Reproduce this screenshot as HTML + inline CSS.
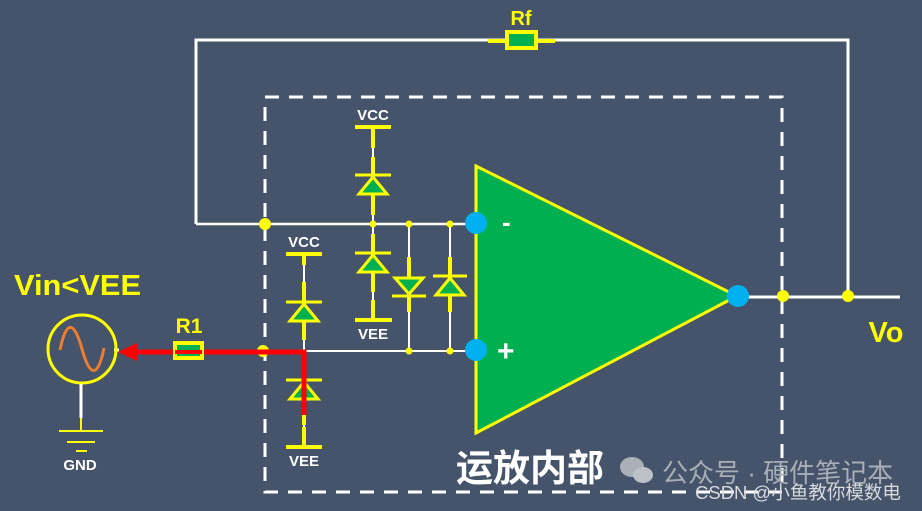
<!DOCTYPE html>
<html><head><meta charset="utf-8"><style>
html,body{margin:0;padding:0;background:#45546b;}
svg{display:block;}
text{font-family:"Liberation Sans","Noto Sans CJK SC",sans-serif;font-weight:bold;}
</style></head><body>
<svg width="922" height="511" viewBox="0 0 922 511">
<rect width="922" height="511" fill="#45546b"/>
<rect x="265" y="97" width="517" height="395" fill="none" stroke="#fff" stroke-width="3" stroke-dasharray="14,10"/>
<polyline points="196,224 196,40 848,40 848,297" fill="none" stroke="#fff" stroke-width="3"/>
<line x1="488" y1="41" x2="555" y2="41" stroke="#ff0" stroke-width="4"/>
<rect x="507" y="32" width="29" height="16" fill="#00b050" stroke="#ff0" stroke-width="4"/>
<text x="521" y="25" fill="#ff0" font-size="20" text-anchor="middle">Rf</text>
<line x1="196" y1="224" x2="476" y2="224" stroke="#fff" stroke-width="2.5"/>
<line x1="263" y1="351" x2="476" y2="351" stroke="#fff" stroke-width="2"/>
<line x1="738" y1="297" x2="900" y2="297" stroke="#fff" stroke-width="3"/>
<line x1="409" y1="224" x2="409" y2="351" stroke="#fff" stroke-width="2"/>
<line x1="450" y1="224" x2="450" y2="351" stroke="#fff" stroke-width="2"/>
<line x1="373" y1="127" x2="373" y2="320" stroke="#fff" stroke-width="2"/>
<line x1="304" y1="253" x2="304" y2="447" stroke="#fff" stroke-width="2"/>
<g stroke="#ff0" stroke-width="4">
<line x1="355" y1="127" x2="391" y2="127"/><line x1="373" y1="127" x2="373" y2="148"/>
<line x1="373" y1="157" x2="373" y2="215"/>
<line x1="373" y1="234" x2="373" y2="292"/><line x1="373" y1="300" x2="373" y2="320"/>
<line x1="355" y1="320" x2="392" y2="320"/>
<line x1="286" y1="254" x2="322" y2="254"/><line x1="304" y1="254" x2="304" y2="265"/>
<line x1="304" y1="282" x2="304" y2="340"/>
<line x1="304" y1="365" x2="304" y2="425"/>
<line x1="286" y1="447" x2="322" y2="447"/><line x1="304" y1="427" x2="304" y2="447"/>
<line x1="409" y1="257" x2="409" y2="312"/>
<line x1="450" y1="257" x2="450" y2="312"/>
</g>
<g fill="#00b050" stroke="#ff0" stroke-width="3">
<line x1="355" y1="175" x2="391" y2="175"/><polygon points="373,177 359,194 387,194"/>
<line x1="355" y1="253" x2="391" y2="253"/><polygon points="373,255 359,272 387,272"/>
<line x1="286" y1="302" x2="322" y2="302"/><polygon points="304,304 290,321 318,321"/>
<line x1="286" y1="380" x2="322" y2="380"/><polygon points="304,382 290,399 318,399"/>
<line x1="392" y1="296" x2="426" y2="296"/><polygon points="409,294 395,278 423,278"/>
<line x1="433" y1="276" x2="467" y2="276"/><polygon points="450,278 436,295 464,295"/>
</g>
<polygon points="476,166 476,433 737,296" fill="#00b050" stroke="#ff0" stroke-width="3"/>
<circle cx="476" cy="223" r="11" fill="#00b0f0"/>
<circle cx="476" cy="350" r="11" fill="#00b0f0"/>
<circle cx="738" cy="296" r="11" fill="#00b0f0"/>
<text x="502" y="231" fill="#fff" font-size="26">-</text>
<text x="497" y="361" fill="#fff" font-size="30">+</text>
<g fill="#ff0">
<circle cx="265" cy="224" r="6"/><circle cx="263" cy="351" r="6"/>
<circle cx="783" cy="296" r="6"/><circle cx="848" cy="296" r="6"/>
<circle cx="373" cy="224" r="3.5"/><circle cx="409" cy="224" r="3.5"/><circle cx="450" cy="224" r="3.5"/>
<circle cx="409" cy="351" r="3.5"/><circle cx="450" cy="351" r="3.5"/>
</g>
<polyline points="304,415 304,352 135,352" fill="none" stroke="#f00" stroke-width="5"/>
<polygon points="118,352 137,343 137,361" fill="#f00"/>
<rect x="175" y="343" width="27" height="15" fill="#00b050" stroke="#ff0" stroke-width="4"/>
<line x1="175" y1="352" x2="202" y2="352" stroke="#f00" stroke-width="4"/>
<text x="189" y="333" fill="#ff0" font-size="21" text-anchor="middle">R1</text>
<line x1="114" y1="350" x2="119" y2="350" stroke="#fff" stroke-width="3"/>
<circle cx="82" cy="349" r="34" fill="none" stroke="#ff0" stroke-width="3"/>
<path d="M60,350 C66,320 74,320 82,349 C90,378 98,378 104,348" fill="none" stroke="#ed7d31" stroke-width="3"/>
<line x1="81" y1="384" x2="81" y2="418" stroke="#fff" stroke-width="3"/>
<g stroke="#ff0" stroke-width="2"><line x1="81" y1="418" x2="81" y2="430"/><line x1="59" y1="431" x2="103" y2="431"/><line x1="67" y1="442" x2="95" y2="442"/><line x1="76" y1="451" x2="87" y2="451"/></g>
<text x="80" y="470" fill="#fff" font-size="15" text-anchor="middle">GND</text>
<text x="14" y="295" fill="#ff0" font-size="29" textLength="127" lengthAdjust="spacingAndGlyphs">Vin&lt;VEE</text>
<g fill="#fff" font-size="15" text-anchor="middle">
<text x="373" y="120">VCC</text><text x="373" y="339">VEE</text>
<text x="304" y="247">VCC</text><text x="304" y="466">VEE</text>
</g>
<text x="886" y="342" fill="#ff0" font-size="29" text-anchor="middle">Vo</text>
<text x="456" y="481" fill="#fff" font-size="37">运放内部</text>
<g fill="#aab0b8">
<ellipse cx="632" cy="467" rx="12" ry="10"/><ellipse cx="643" cy="475" rx="10" ry="8" fill="#bcc1c8"/>
</g>
<text x="662" y="482" fill="#a8aeb6" font-size="26" style="font-weight:normal">公众号 · 硬件笔记本</text>
<text x="695" y="499" fill="#d8dadd" font-size="18.5" style="font-weight:normal">CSDN @小鱼教你模数电</text>
</svg>
</body></html>
